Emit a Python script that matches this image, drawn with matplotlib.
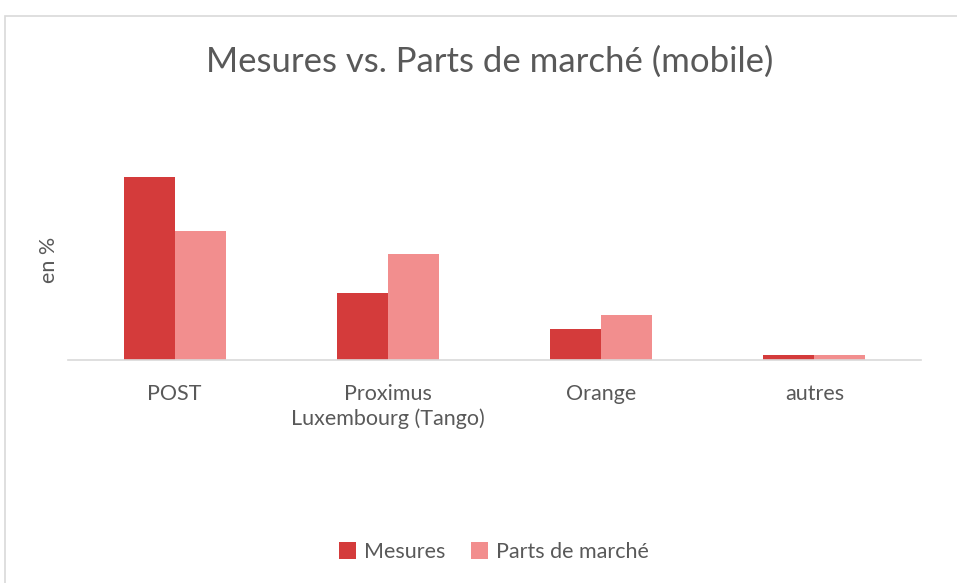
import numpy as np
import matplotlib.pyplot as plt
from matplotlib.patches import Rectangle

plt.rcParams['font.family'] = ['Lato', 'DejaVu Sans']

categories = ['POST', 'Proximus\nLuxembourg (Tango)', 'Orange', 'autres']
mesures = [64.0, 23.4, 10.8, 1.7]
parts_marche = [45.3, 37.2, 15.8, 1.8]

c_mes = '#D43B3B'
c_parts = '#F28E8E'
txt = '#595959'


def main():
    fig = plt.figure(figsize=(9.57, 5.83), dpi=100)
    W, H = 957, 583

    # outer frame of the chart (right/bottom edges fall outside the picture)
    fig.patches.append(Rectangle((5 / W, -0.1), 1.2, 1.1 - 16 / H, transform=fig.transFigure,
                                 fill=False, edgecolor='#D9D9D9', linewidth=1.2))

    ax = fig.add_axes([68 / W, (H - 360) / H, (921 - 68) / W, 240 / H])
    x = np.arange(len(categories))
    w = 0.239
    ax.bar(x - w / 2, mesures, w, color=c_mes, label='Mesures')
    ax.bar(x + w / 2, parts_marche, w, color=c_parts, label='Parts de marché')

    ax.set_xlim(-0.5, len(categories) - 0.5)
    ax.set_ylim(0, 84)
    ax.set_yticks([])
    ax.set_xticks(x)
    ax.set_xticklabels(categories, fontsize=15.5, color=txt, linespacing=1.3)
    ax.tick_params(axis='x', length=0, pad=17)
    for s in ['top', 'right', 'left']:
        ax.spines[s].set_visible(False)
    ax.spines['bottom'].set_color('#D9D9D9')
    ax.spines['bottom'].set_linewidth(1.2)

    ax.set_ylabel('en %', fontsize=15.5, color=txt, labelpad=0)
    ax.yaxis.set_label_coords(-9 / 853, (360 - 260) / 240)

    fig.text(490 / W, 1 - 62 / H, 'Mesures vs. Parts de marché (mobile)',
             ha='center', va='center', fontsize=25, color=txt)

    fig.legend(loc='center', bbox_to_anchor=(494 / W, 1 - 552 / H), ncol=2,
               frameon=False, fontsize=15.5, labelcolor=txt, handlelength=0.8,
               handleheight=0.8, handletextpad=0.35, columnspacing=1.2)

    fig.savefig('out.png', dpi=100)


if __name__ == '__main__':
    main()
